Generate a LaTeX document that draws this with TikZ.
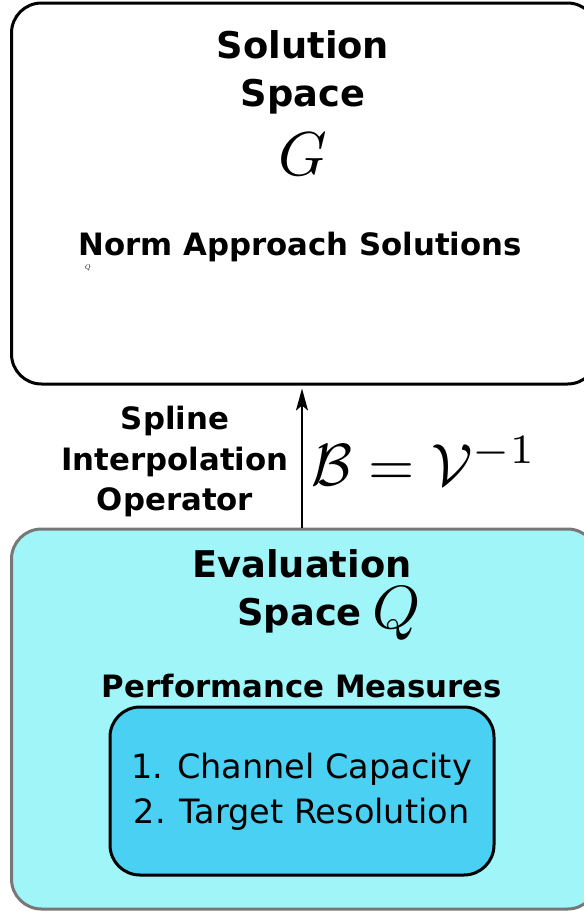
\documentclass[tikz,border=0pt]{standalone}
\usepackage{fontspec}
\newfontfamily\dv{DejaVu Sans}
\usetikzlibrary{arrows.meta}
\definecolor{evalfill}{HTML}{A0F5F9}
\definecolor{measfill}{HTML}{4AD0F3}
\definecolor{evaledge}{HTML}{777777}
\tikzset{
  spacebox/.style={draw, line width=3pt, rounded corners=30pt, rectangle, inner sep=0pt},
  head/.style={font=\dv\bfseries\fontsize{36.8}{40}\selectfont, anchor=base, inner sep=0pt},
  sub/.style={font=\dv\bfseries\fontsize{30.8}{34}\selectfont, anchor=base, inner sep=0pt},
  item/.style={font=\dv\fontsize{33.5}{38}\selectfont, anchor=base, inner sep=0pt},
  mathlbl/.style={anchor=base, inner sep=0pt},
}
\begin{document}
\begin{tikzpicture}[x=1pt, y=-1pt]
  \useasboundingbox (0,0) rectangle (584,911);
  \clip (0,0) rectangle (584,911);

  % solution space
  \node[spacebox, fill=white, minimum width=586pt, minimum height=381pt] (sol) at (304.5,193.5) {};
  \node[head] (solA) at (303,58) {Solution};
  \node[head] (solB) at (303,106) {Space};
  \node[mathlbl] (solG) at (303,175) {\scalebox{6.2}{$G$}};
  \node[sub] (norm) at (300,255) {Norm Approach Solutions};
  \node[mathlbl] (tinyq) at (88,269) {\scalebox{0.7}{$Q$}};

  % evaluation space
  \node[spacebox, draw=evaledge, fill=evalfill, minimum width=586pt, minimum height=380pt] (eval) at (304.5,719) {};
  \node[head] (evA) at (302,577) {Evaluation};
  \node[head, anchor=base east] (evB) at (362,625) {Space};
  \node[mathlbl, anchor=base west] (evQ) at (372,628) {\scalebox{6.1}{$Q$}};
  \node[sub] (perf) at (302,697) {Performance Measures};
  \node[spacebox, fill=measfill, minimum width=384pt, minimum height=168pt] (meas) at (302,791) {};
  \node[item] (m1) at (301.5,778) {1. Channel Capacity};
  \node[item] (m2) at (301.5,823) {2. Target Resolution};

  % operator between the spaces
  \coordinate (ax) at (302,0);
  \draw[line width=2pt, -{Stealth[length=22pt, width=12pt, inset=5pt]}]
    (eval.north -| ax) -- ([yshift=-3pt]sol.south -| ax);
  \node[sub] (opA) at (175,429) {Spline};
  \node[sub] (opB) at (175,470) {Interpolation};
  \node[sub] (opC) at (175,510) {Operator};
  \node[mathlbl, anchor=base west] (opM) at (311,485) {\scalebox{5.95}{$\mathcal{B}=\mathcal{V}^{-1}$}};
\end{tikzpicture}
\end{document}
